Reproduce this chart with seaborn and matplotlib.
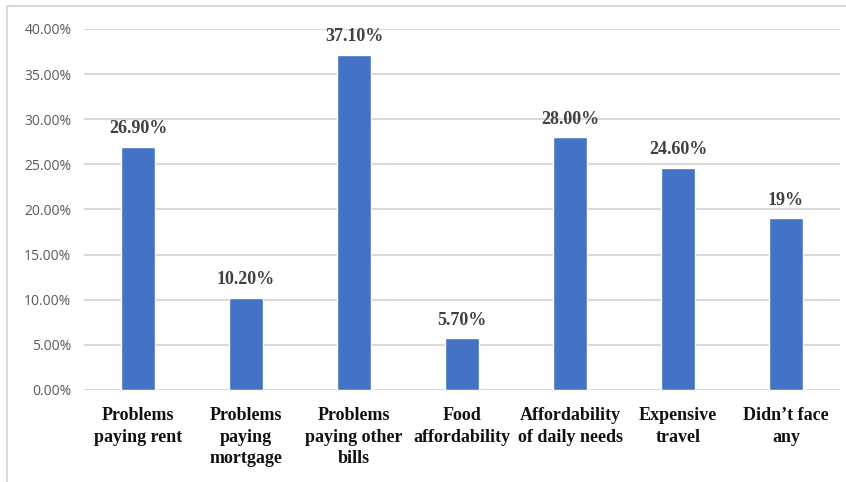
import matplotlib
matplotlib.use("Agg")
import matplotlib.pyplot as plt
import seaborn as sns
import pandas as pd
from matplotlib.patches import Rectangle
from matplotlib.ticker import FuncFormatter

# data
categories = ["Problems\npaying rent", "Problems\npaying\nmortgage",
              "Problems\npaying other\nbills", "Food\naffordability",
              "Affordability\nof daily needs", "Expensive\ntravel",
              "Didn\u2019t face\nany"]
values = [26.9, 10.2, 37.1, 5.7, 28.0, 24.6, 19.0]
value_labels = ["26.90%", "10.20%", "37.10%", "5.70%", "28.00%", "24.60%", "19%"]
y_ticks = [0, 5, 10, 15, 20, 25, 30, 35, 40]

df = pd.DataFrame({"category": categories, "share": values})

sns.set_style("white")

fig = plt.figure(figsize=(8.46, 4.82), dpi=100)
ax = fig.add_axes([0.0993, 0.191, 0.8937, 0.749])

sns.barplot(x="category", y="share", data=df, color="#4472C4",
            width=0.31, saturation=1, ax=ax, zorder=3)

ax.set_ylim(0, 40)
ax.set_yticks(y_ticks)
ax.yaxis.set_major_formatter(FuncFormatter(lambda v, _: f"{v:.2f}%"))
ax.grid(axis="y", color="#d9d9d9", linewidth=1.5, zorder=0)
for s in ax.spines.values():
    s.set_visible(False)
ax.tick_params(length=0)
ax.tick_params(axis="y", labelsize=10, labelcolor="#595959", pad=9)
ax.tick_params(axis="x", pad=12)
for lab in ax.get_yticklabels():
    lab.set_family("Open Sans")
for lab in ax.get_xticklabels():
    lab.set_family("Liberation Serif")
    lab.set_fontweight("bold")
    lab.set_fontsize(13)
    lab.set_color("#111111")
    lab.set_linespacing(1.38)
ax.set_xlabel("")
ax.set_ylabel("")

for bar, txt in zip(ax.patches, value_labels):
    ax.annotate(txt, (bar.get_x() + bar.get_width() / 2, bar.get_height()),
                xytext=(0, 7), textcoords="offset points", ha="center", va="bottom",
                family="Liberation Serif", fontweight="bold", fontsize=13,
                color="#404040")

# chart border (top and left visible)
fig.patches.append(Rectangle((0.008, -0.1), 1.2, 1.087, transform=fig.transFigure,
                             fill=False, edgecolor="#d9d9d9", linewidth=1.5))

fig.savefig("out.png", dpi=100)
